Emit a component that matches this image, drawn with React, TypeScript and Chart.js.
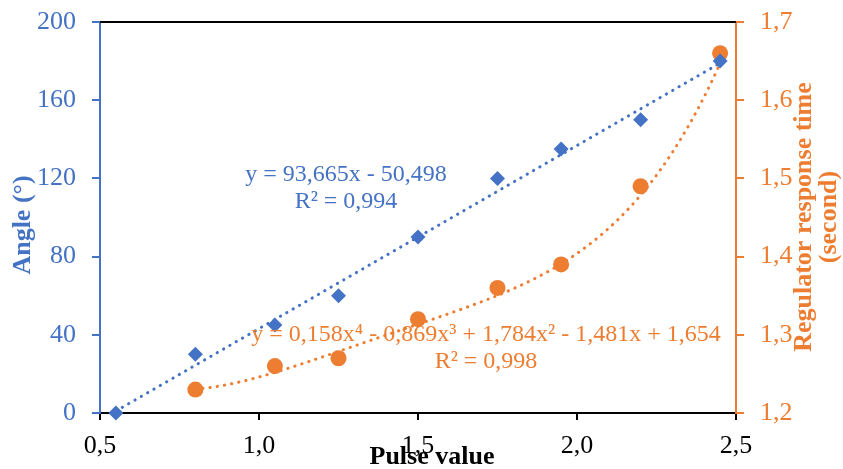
import React, { useEffect, useRef } from "react";
import { Chart, registerables } from "chart.js";

Chart.register(...registerables);

const pulseX = [0.55, 0.8, 1.05, 1.25, 1.5, 1.75, 1.95, 2.2, 2.45];
const angleY = [0, 30, 45, 60, 90, 120, 135, 150, 180];
const timeX = [0.8, 1.05, 1.25, 1.5, 1.75, 1.95, 2.2, 2.45];
const timeY = [1.23, 1.26, 1.27, 1.32, 1.36, 1.39, 1.49, 1.66];

// trendline coefficients (highest power first), as printed on the chart
const linearCoef = [93.665, -50.498];
const polyCoef = [0.158, -0.869, 1.784, -1.481, 1.654];

const linearEq = "y = 93,665x - 50,498";
const linearR2 = "R² = 0,994";
const polyEq = "y = 0,158x⁴ - 0,869x³ + 1,784x² - 1,481x + 1,654";
const polyR2 = "R² = 0,998";

const xTitle = "Pulse value";
const leftTitle = "Angle (°)";
const rightTitle = ["Regulator response time", "(second)"];

const BLUE = "#4472C4";
const ORANGE = "#ED7D31";
const FONT = "'Liberation Serif', 'Times New Roman', serif";

const evalPoly = (c: number[], x: number) => c.reduce((acc, k) => acc * x + k, 0);

const fmt = (v: any) => Number(v).toFixed(1).replace(".", ",");

function drawTrend(chart: any, coef: number[], xs: number[], yId: string, color: string) {
  const { ctx, scales } = chart;
  const x0 = Math.min(...xs);
  const x1 = Math.max(...xs);
  const n = 200;
  ctx.save();
  ctx.beginPath();
  for (let i = 0; i <= n; i++) {
    const xv = x0 + ((x1 - x0) * i) / n;
    const px = scales.x.getPixelForValue(xv);
    const py = scales[yId].getPixelForValue(evalPoly(coef, xv));
    if (i === 0) ctx.moveTo(px, py);
    else ctx.lineTo(px, py);
  }
  ctx.strokeStyle = color;
  ctx.lineWidth = 3;
  ctx.lineCap = "round";
  ctx.setLineDash([0.3, 7]);
  ctx.stroke();
  ctx.restore();
}

const trendPlugin = {
  id: "trend",
  beforeDatasetsDraw(chart: any) {
    drawTrend(chart, linearCoef, pulseX, "y", BLUE);
    drawTrend(chart, polyCoef, timeX, "y1", ORANGE);
  },
};

const textPlugin = {
  id: "texts",
  afterDraw(chart: any) {
    const { ctx, chartArea: a } = chart;
    ctx.save();
    // top border
    ctx.strokeStyle = "#000";
    ctx.lineWidth = 2;
    ctx.beginPath();
    ctx.moveTo(a.left, a.top);
    ctx.lineTo(a.right, a.top);
    ctx.stroke();

    ctx.textAlign = "center";
    ctx.textBaseline = "middle";

    // equations
    ctx.font = `24px ${FONT}`;
    ctx.fillStyle = BLUE;
    ctx.fillText(linearEq, 346, 175);
    ctx.fillText(linearR2, 346, 202);
    ctx.fillStyle = ORANGE;
    ctx.fillText(polyEq, 486, 335);
    ctx.fillText(polyR2, 486, 362);

    // x title
    ctx.font = `bold 26px ${FONT}`;
    ctx.fillStyle = "#000";
    ctx.fillText(xTitle, 432, 457);

    // left title
    ctx.save();
    ctx.translate(23, 225);
    ctx.rotate(-Math.PI / 2);
    ctx.fillStyle = BLUE;
    ctx.fillText(leftTitle, 0, 0);
    ctx.restore();

    // right title
    ctx.save();
    ctx.translate(804, 217);
    ctx.rotate(-Math.PI / 2);
    ctx.fillStyle = ORANGE;
    ctx.fillText(rightTitle[0], 0, 0);
    ctx.fillText(rightTitle[1], 0, 25);
    ctx.restore();

    ctx.restore();
  },
};

const fitY = (w: number) => (s: any) => {
  s.width = w;
  s.paddingTop = 0;
  s.paddingBottom = 0;
};

export default function App() {
  const ref = useRef<HTMLCanvasElement>(null);
  useEffect(() => {
    if (!ref.current) return;
    const chart = new Chart(ref.current, {
      type: "scatter",
      data: {
        datasets: [
          {
            label: "Angle",
            data: pulseX.map((x, i) => ({ x, y: angleY[i] })),
            yAxisID: "y",
            pointStyle: "rectRot",
            pointRadius: 7.5,
            pointBackgroundColor: BLUE,
            pointBorderColor: BLUE,
            pointBorderWidth: 0,
            clip: false,
          } as any,
          {
            label: "Time",
            data: timeX.map((x, i) => ({ x, y: timeY[i] })),
            yAxisID: "y1",
            pointStyle: "circle",
            pointRadius: 8,
            pointBackgroundColor: ORANGE,
            pointBorderColor: ORANGE,
            pointBorderWidth: 0,
            clip: false,
          } as any,
        ],
      },
      options: {
        responsive: false,
        animation: false,
        layout: { padding: { top: 22, left: 0, right: 0, bottom: 0 } },
        plugins: { legend: { display: false }, tooltip: { enabled: false } },
        scales: {
          x: {
            type: "linear",
            position: "bottom",
            min: 0.5,
            max: 2.5,
            afterFit: (s: any) => {
              s.height = 56;
              s.paddingLeft = 0;
              s.paddingRight = 0;
            },
            ticks: { stepSize: 0.5, callback: fmt, color: "#000", font: { family: FONT, size: 26 }, padding: 11, maxRotation: 0 },
            grid: { drawOnChartArea: false, tickLength: 7, color: "#000", lineWidth: 2 },
            border: { color: "#000", width: 2 },
          },
          y: {
            type: "linear",
            position: "left",
            min: 0,
            max: 200,
            afterFit: fitY(100),
            ticks: { stepSize: 40, color: BLUE, font: { family: FONT, size: 26 }, padding: 16 },
            grid: { drawOnChartArea: false, tickLength: 8, color: BLUE, lineWidth: 2 },
            border: { color: BLUE, width: 2 },
          },
          y1: {
            type: "linear",
            position: "right",
            min: 1.2,
            max: 1.7,
            afterFit: fitY(107),
            ticks: { stepSize: 0.1, callback: fmt, color: ORANGE, font: { family: FONT, size: 26 }, padding: 16 },
            grid: { drawOnChartArea: false, tickLength: 8, color: ORANGE, lineWidth: 2 },
            border: { color: ORANGE, width: 2 },
          },
        },
      } as any,
      plugins: [trendPlugin, textPlugin],
    });
    return () => chart.destroy();
  }, []);
  return (
    <div style={{ position: "absolute", left: 0, top: 0, width: 843, height: 469, background: "#fff" }}>
      <canvas ref={ref} width={843} height={469} style={{ display: "block" }} />
    </div>
  );
}
